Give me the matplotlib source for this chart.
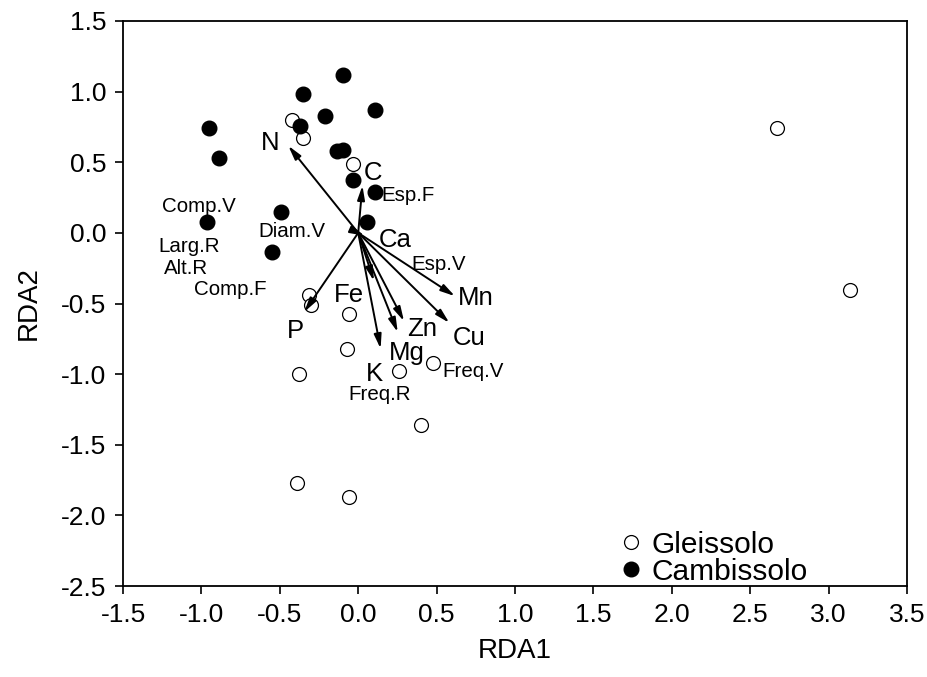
#!/usr/bin/env python3

import matplotlib
matplotlib.use("Agg")
import matplotlib.pyplot as plt
from matplotlib.lines import Line2D

IMAGE_SIZE_PX = (928, 677)
IMAGE_DPI = 100

# Site scores, open circles
GLEI_X = [-0.42, -0.354, -0.035, -0.316, -0.303, -0.061, -0.071, -0.38,
          0.258, 0.475, 0.40, -0.392, -0.061, 2.67, 3.136]
GLEI_Y = [0.796, 0.672, 0.49, -0.441, -0.514, -0.571, -0.825, -0.997,
          -0.979, -0.924, -1.363, -1.773, -1.872, 0.745, -0.406]

# Site scores, filled circles
CAMB_X = [-0.10, -0.354, 0.107, -0.214, -0.369, -0.954, -0.89, -0.137,
          -0.095, -0.035, 0.107, 0.054, -0.494, -0.966, -0.548]
CAMB_Y = [1.12, 0.985, 0.867, 0.83, 0.759, 0.743, 0.533, 0.577,
          0.589, 0.377, 0.287, 0.078, 0.149, 0.075, -0.134]

# Environmental vectors (arrow tips)
ENV_NAMES = ["N", "C", "Ca", "Fe", "P", "Mn", "Zn", "Cu", "Mg", "K"]
ENV_X = [-0.446, 0.027, 0.04, 0.10, -0.344, 0.617, 0.292, 0.581, 0.252, 0.143]
ENV_Y = [0.617, 0.335, -0.02, -0.34, -0.56, -0.448, -0.625, -0.637, -0.703, -0.82]
ENV_LABEL_X = [-0.5625, 0.096, 0.237, -0.057, -0.399, 0.751, 0.405, 0.709, 0.309, 0.101]
ENV_LABEL_Y = [0.636, 0.424, -0.047, -0.443, -0.696, -0.46, -0.677, -0.743, -0.849, -1.002]

# Response variable names
RESP_NAMES = ["Esp.F", "Comp.V", "Larg.R", "Alt.R", "Comp.F", "Diam.V",
              "Esp.V", "Freq.V", "Freq.R"]
RESP_X = [0.318, -1.013, -1.079, -1.10, -0.818, -0.42, 0.515, 0.73, 0.135]
RESP_Y = [0.264, 0.184, -0.099, -0.252, -0.401, 0.011, -0.224, -0.979, -1.144]

X_TICKS = [-1.5, -1.0, -0.5, 0.0, 0.5, 1.0, 1.5, 2.0, 2.5, 3.0, 3.5]
Y_TICKS = [-2.5, -2.0, -1.5, -1.0, -0.5, 0.0, 0.5, 1.0, 1.5]


def main():
    plt.rcParams["font.family"] = ["Liberation Sans", "DejaVu Sans"]

    fig = plt.figure(figsize=[d / IMAGE_DPI for d in IMAGE_SIZE_PX], dpi=IMAGE_DPI)
    ax = fig.add_axes([123 / 928, 1 - 586 / 677, 784 / 928, 565 / 677])

    ax.plot(GLEI_X, GLEI_Y, linestyle="none", marker="o", markersize=10,
            markerfacecolor="white", markeredgecolor="black", markeredgewidth=0.9,
            zorder=3)
    ax.plot(CAMB_X, CAMB_Y, linestyle="none", marker="o", markersize=10.5,
            markerfacecolor="black", markeredgecolor="black", zorder=3)

    for name, x, y, lx, ly in zip(ENV_NAMES, ENV_X, ENV_Y, ENV_LABEL_X, ENV_LABEL_Y):
        ax.annotate(
            "", xy=(x, y), xytext=(0, 0),
            arrowprops=dict(arrowstyle="-|>,head_length=0.85,head_width=0.22",
                            color="black", lw=1.4, shrinkA=0, shrinkB=0),
            zorder=4,
        )
        ax.text(lx, ly, name, fontsize=18.5, ha="center", va="center", zorder=5)

    for name, x, y in zip(RESP_NAMES, RESP_X, RESP_Y):
        ax.text(x, y, name, fontsize=14.8, ha="center", va="center", zorder=5)

    ax.set_xlim(-1.5, 3.5)
    ax.set_ylim(-2.5, 1.5)
    ax.set_xticks(X_TICKS)
    ax.set_yticks(Y_TICKS)
    ax.set_xticklabels([f"{t:.1f}" for t in X_TICKS])
    ax.set_yticklabels([f"{t:.1f}" for t in Y_TICKS])
    ax.tick_params(direction="out", length=6, width=1.2, labelsize=19, pad=6)
    for side in ["left", "bottom", "right", "top"]:
        ax.spines[side].set_linewidth(1.3)

    ax.set_xlabel("RDA1", fontsize=20, labelpad=8)
    ax.set_ylabel("RDA2", fontsize=20, labelpad=14)

    handles = [
        Line2D([], [], linestyle="none", marker="o", markersize=10,
               markerfacecolor="white", markeredgecolor="black", markeredgewidth=0.9),
        Line2D([], [], linestyle="none", marker="o", markersize=10.5,
               markerfacecolor="black", markeredgecolor="black"),
    ]
    ax.legend(handles, ["Gleissolo", "Cambissolo"], loc="lower left",
              bbox_to_anchor=(0.617, -0.021), frameon=False, fontsize=21.5,
              handlelength=0.8, handletextpad=0.3, labelspacing=-0.03,
              borderaxespad=0.0)

    fig.savefig("out.png", dpi=IMAGE_DPI)


if __name__ == "__main__":
    main()
